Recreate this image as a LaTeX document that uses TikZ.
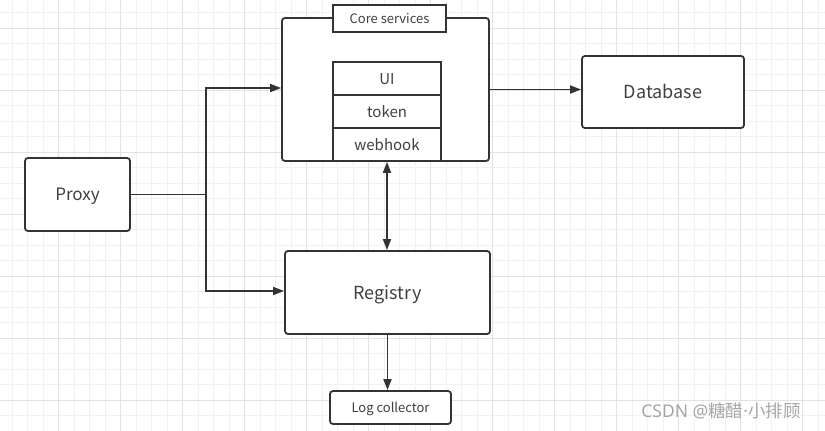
\documentclass[tikz,border=0pt]{standalone}
\usepackage{fontspec}
\setmainfont{Noto Sans CJK SC}
\newfontfamily\latinfont{Noto Sans}
\usetikzlibrary{arrows.meta}
\definecolor{linegray}{HTML}{333333}
\definecolor{textgray}{HTML}{404040}
\definecolor{gridminor}{HTML}{F1F1F1}
\definecolor{gridmajor}{HTML}{E2E2E2}
\definecolor{markgray}{HTML}{A6A6A6}
\begin{document}
\begin{tikzpicture}[x=1pt,y=-1pt,
    box/.style ={rectangle, draw=linegray, line width=1.8pt, rounded corners=3pt, fill=white, text=textgray, inner sep=0pt, text depth=0pt},
    bigtext/.style ={font=\fontsize{18}{21}\selectfont, text height=13pt},
    midtext/.style ={font=\fontsize{17}{20}\selectfont, text height=12.4pt},
    smalltext/.style ={font=\fontsize{13}{15}\selectfont, text height=9.5pt},
    part/.style ={rectangle, draw=linegray, line width=1.8pt, fill=white, text=textgray, inner sep=0pt, text height=11pt, text depth=0pt, minimum width=108pt, minimum height=33pt, font=\fontsize{15}{17}\selectfont},
    link/.style ={draw=linegray, line width=1.8pt, -{Triangle[length=11pt,width=8pt]}}]
   \useasboundingbox (0,0) rectangle (825,431);
   \fill[white] (0,0) rectangle (825,431);

   % background grid
   \foreach \gx in {12.2,27.7,...,825} \draw[gridminor, line width=1pt] (\gx,0) -- (\gx,431);
   \foreach \gy in {12.8,28.3,...,431} \draw[gridminor, line width=1pt] (0,\gy) -- (825,\gy);
   \foreach \gx in {58.7,120.7,...,825} \draw[gridmajor, line width=1pt] (\gx,0) -- (\gx,431);
   \foreach \gy in {28.3,90.3,...,431} \draw[gridmajor, line width=1pt] (0,\gy) -- (825,\gy);

   \node[box, midtext, minimum width=105pt, minimum height=73pt] (proxy) at (77.5,194.5) {Proxy};
   \node[box, minimum width=207pt, minimum height=143pt] (core) at (385.5,89.5) {};
   \node[box, smalltext, rounded corners=0pt, minimum width=113pt, minimum height=27pt] (coretitle) at (389.5,18.5) {Core services};
   \node[part] (ui) at (387,78.5) {UI};
   \node[part] (token) at (387,111.5) {token};
   \node[part] (webhook) at (387,144.5) {webhook};
   \node[box, bigtext, minimum width=162pt, minimum height=72pt] (database) at (663,92) {Database};
   \node[box, bigtext, minimum width=205pt, minimum height=83pt] (registry) at (387.5,292.5) {Registry};
   \node[box, smalltext, minimum width=121pt, minimum height=33pt] (logcollector) at (390.5,407.5) {Log collector};

   \coordinate (split) at (206,194.5);

   \draw[line width=1.8pt, draw=linegray] (proxy.east) -- (split);
   \draw[link] (split) |- ([yshift=1.5pt]core.west);
   \draw[link] (split) |- ([yshift=1.5pt]registry.west);
   \draw[link] (core.east) -- (core.east -| database.west);
   \draw[link, {Triangle[length=11pt,width=8pt]}-{Triangle[length=11pt,width=8pt]}] (webhook.south) -- (webhook.south |- registry.north);
   \draw[link] (registry.south) -- (registry.south |- logcollector.north);

   \node[text=markgray, font=\fontsize{17.5}{19}\selectfont, inner sep=0pt] (mark) at (721,411) {{\latinfont CSDN @}糖醋{\latinfont ·}小排顾};
 \end{tikzpicture}
\end{document}
